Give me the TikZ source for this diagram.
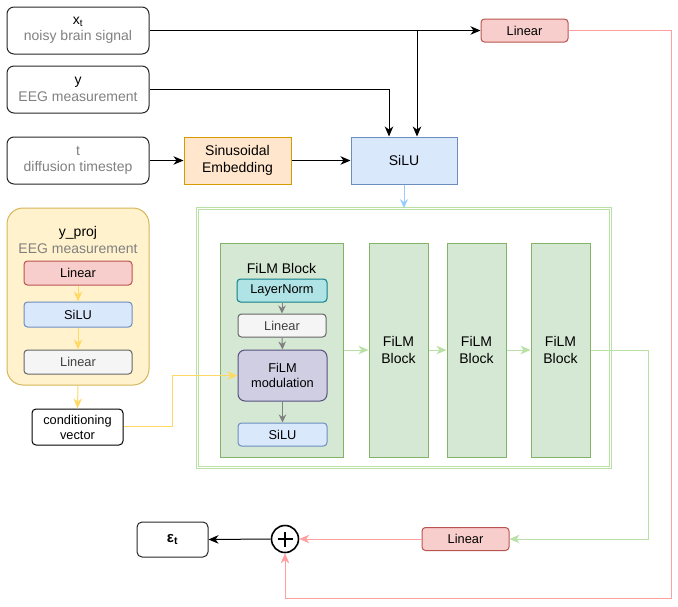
\documentclass[tikz,border=0pt]{standalone}
\usepackage{fontspec}
\setmainfont{Liberation Sans}
\usetikzlibrary{arrows.meta, positioning, shapes.geometric}
\definecolor{redfill}{HTML}{F8CECC}
\definecolor{redline}{HTML}{B85450}
\definecolor{bluefill}{HTML}{DAE8FC}
\definecolor{blueline}{HTML}{6C8EBF}
\definecolor{orangefill}{HTML}{FFE6CC}
\definecolor{orangeline}{HTML}{D79B00}
\definecolor{yellowfill}{HTML}{FFF2CC}
\definecolor{yellowline}{HTML}{D6B656}
\definecolor{greenfill}{HTML}{D5E8D4}
\definecolor{greenline}{HTML}{82B366}
\definecolor{tealfill}{HTML}{B0E3E6}
\definecolor{tealline}{HTML}{0E8088}
\definecolor{grayfill}{HTML}{F5F5F5}
\definecolor{grayline}{HTML}{666666}
\definecolor{purplefill}{HTML}{D0CEE2}
\definecolor{purpleline}{HTML}{56517E}
\definecolor{pinkwire}{HTML}{FF9F9F}
\definecolor{greenwire}{HTML}{B9E0A5}
\definecolor{yellowwire}{HTML}{FFD966}
\definecolor{bluewire}{HTML}{99CCFF}
\definecolor{graytext}{HTML}{808080}
\newcommand{\bigfont}{\fontsize{14}{16.5}\selectfont}
\newcommand{\smallfont}{\fontsize{12.8}{15}\selectfont}
\tikzstyle{inputbox} = [
rectangle, rounded corners=7pt, draw=black!85, line width=1pt, minimum width=142pt,
minimum height=47pt, align=center, font=\bigfont, inner sep=0pt
]
\tikzstyle{mainbox} = [
rectangle, draw, line width=1pt, minimum width=106pt, minimum height=47pt,
align=center, font=\bigfont, inner sep=0pt
]
\tikzstyle{smallbox} = [
rectangle, rounded corners=3.5pt, draw, line width=1pt, minimum width=88pt,
minimum height=23pt, align=center, font=\smallfont, inner sep=0pt
]
\tikzstyle{filmbox} = [
rectangle, draw=greenline, fill=greenfill, line width=1pt, minimum width=59pt,
minimum height=214pt, align=center, font=\bigfont, inner sep=0pt
]
\tikzstyle{arrow} = [line width=1pt, -{Stealth[length=10pt, width=8.5pt, inset=3pt]}]
\tikzstyle{grayarrow} = [line width=1pt, draw=graytext, -{Stealth[length=8pt, width=7.5pt, inset=2.5pt]}]
\tikzstyle{greenarrow} = [line width=1pt, draw=greenwire, -{Stealth[length=10pt, width=8.5pt, inset=3pt]}]
\tikzstyle{yellowarrow} = [line width=1pt, draw=yellowwire, -{Stealth[length=10pt, width=8.5pt, inset=3pt]}]
\tikzstyle{pinkarrow} = [line width=1pt, draw=pinkwire, -{Stealth[length=10pt, width=8.5pt, inset=3pt]}]
\tikzstyle{bluearrow} = [line width=1pt, draw=bluewire, -{Stealth[length=9pt, width=8pt, inset=3pt]}]

\begin{document}
\begin{tikzpicture}[x=1pt, y=-1pt]
    \useasboundingbox (0,0) rectangle (678,606);
    % Entradas
    \node (xt) [inputbox] at (78,30.5) {x\textsubscript{t}\\\textcolor{graytext}{noisy brain signal}};
    \node (y) [inputbox] at (78,89.5) {y\\\textcolor{graytext}{EEG measurement}};
    \node (t) [inputbox] at (78,160.5) {\textcolor{graytext}{t}\\\textcolor{graytext}{diffusion timestep}};
    \node (SinEmb) [mainbox, draw=orangeline, fill=orangefill, minimum width=107pt] at (237.5,160.5) {Sinusoidal\\Embedding};
    \node (SiLU_top) [mainbox, draw=blueline, fill=bluefill] at (404,160.5) {SiLU};
    \node (Linear_top) [smallbox, draw=redline, fill=redfill, minimum width=87pt] at (524.5,30.5) {Linear};

    % Projecao de y
    \node (y_proj) [rectangle, rounded corners=16pt, draw=yellowline, fill=yellowfill, line width=1pt,
        minimum width=142pt, minimum height=177pt] at (78,296.5) {};
    \node (y_proj_title) [align=center, font=\bigfont, inner sep=0pt] at (78,240) {y\_proj\\\textcolor{graytext}{EEG measurement}};
    \node (P_lin1) [smallbox, draw=redline, fill=redfill, minimum width=108pt, minimum height=24pt] at (78,273) {Linear};
    \node (P_silu) [smallbox, draw=blueline, fill=bluefill, minimum width=108pt, minimum height=25pt] at (78,314.5) {SiLU};
    \node (P_lin2) [smallbox, draw=grayline, fill=grayfill, minimum width=108pt, minimum height=24pt] at (78,362) {\textcolor{black!75}{Linear}};
    \node (cond) [smallbox, draw=black, rounded corners=4pt, minimum width=91pt, minimum height=36pt] at (77.5,427) {conditioning\\vector};

    % Pilha de blocos FiLM
    \node (stack) [rectangle, draw=greenwire, double=white, double distance=1.8pt, line width=0.8pt,
        minimum width=413pt, minimum height=259pt] at (404,338) {};
    \node (F_1) [filmbox, minimum width=123pt] at (281.5,350) {};
    \node (F_1_title) [font=\bigfont, inner sep=0pt] at (281.5,268) {FiLM Block};
    \node (LayerNorm) [smallbox, draw=tealline, fill=tealfill, minimum width=90pt] at (282,290.5) {LayerNorm};
    \node (F_lin) [smallbox, draw=grayline, fill=grayfill] at (282,325.5) {\textcolor{black!75}{Linear}};
    \node (F_mod) [smallbox, draw=purpleline, fill=purplefill, rounded corners=7pt, minimum width=89pt,
        minimum height=51pt] at (282.5,375.5) {FiLM\\modulation};
    \node (F_silu) [smallbox, draw=blueline, fill=bluefill, minimum width=89pt] at (282.5,434.5) {SiLU};
    \node (F_2) [filmbox] at (398.5,350) {FiLM\\Block};
    \node (F_3) [filmbox] at (476.5,350) {FiLM\\Block};
    \node (F_4) [filmbox] at (560.5,350) {FiLM\\Block};

    % Saida
    \node (Linear_bot) [smallbox, draw=redline, fill=redfill, minimum width=87pt] at (465.5,539) {Linear};
    \node (plus) [circle, draw=black, line width=1.6pt, minimum size=27pt, inner sep=0pt] at (285,539) {};
    \draw [line width=1.6pt] ([xshift=-7.5pt]plus.center) -- ([xshift=7.5pt]plus.center);
    \draw [line width=1.6pt] ([yshift=-7.5pt]plus.center) -- ([yshift=7.5pt]plus.center);
    \node (eps) [inputbox, minimum width=71pt, minimum height=35pt, rounded corners=5pt,
        font=\fontsize{15}{17}\selectfont] at (172.5,539.5) {\textbf{ε\textsubscript{t}}};

    % Conexoes
    \coordinate (xt_split) at (417,30.5);
    \coordinate (red_corner) at (671,598);
    \draw [arrow] (xt.east) -- (Linear_top.west);
    \draw [arrow] (xt_split) -- (xt_split |- SiLU_top.north);
    \draw [arrow] (y.east) -| ([xshift=-15pt]SiLU_top.north);
    \draw [arrow] (t.east) -- (SinEmb.west);
    \draw [arrow] (SinEmb.east) -- (SiLU_top.west);
    \draw [bluearrow] (SiLU_top.south) -- (stack.north);

    \draw [yellowarrow] (P_lin1.south) -- (P_silu.north);
    \draw [yellowarrow] (P_silu.south) -- (P_lin2.north);
    \draw [yellowarrow] (y_proj.south) -- (cond.north);
    \draw [yellowarrow] ([yshift=1pt]cond.east) -- ++(49,0) |- (F_mod.west);

    \draw [grayarrow] (LayerNorm.south) -- (F_lin.north);
    \draw [grayarrow] (F_lin.south) -- (F_mod.north);
    \draw [grayarrow] (F_mod.south) -- (F_silu.north);

    \draw [greenarrow] (F_1.east) -- (F_2.west);
    \draw [greenarrow] (F_2.east) -- (F_3.west);
    \draw [greenarrow] (F_3.east) -- (F_4.west);
    \draw [greenarrow] (F_4.east) -- ++(58,0) |- (Linear_bot.east);

    \draw [pinkarrow] (Linear_bot.west) -- (plus.east);
    \draw [pinkarrow] (Linear_top.east) -| (red_corner) -| (plus.south);
    \draw [arrow] (plus.west) -- (eps.east);
\end{tikzpicture}
\end{document}
